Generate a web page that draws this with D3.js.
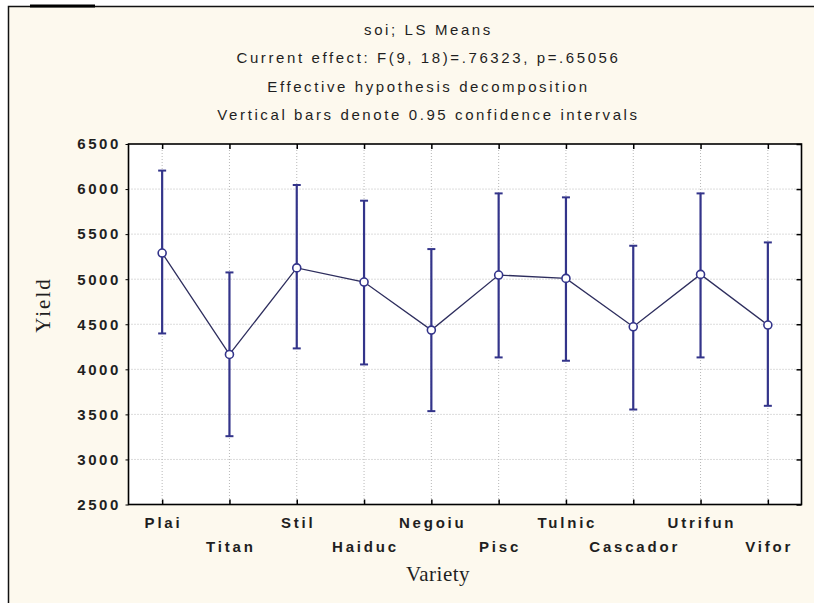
<!DOCTYPE html>
<html><head><meta charset="utf-8">
<script src="https://cdn.jsdelivr.net/npm/d3@7"></script>
<style>
html,body{margin:0;padding:0;background:#fff;}
svg{display:block;}
</style></head>
<body>
<svg id="chart" width="814" height="603"></svg>
<script>
const categories = ["Plai","Titan","Stil","Haiduc","Negoiu","Pisc","Tulnic","Cascador","Utrifun","Vifor"];
const means = [5290, 4165, 5125, 4968, 4435, 5046, 5009, 4472, 5053, 4491];
const upper = [6205, 5075, 6045, 5871, 5334, 5952, 5908, 5371, 5952, 5408];
const lower = [4398, 3258, 4232, 4054, 3536, 4132, 4095, 3554, 4132, 3595];
const yTicks = [2500, 3000, 3500, 4000, 4500, 5000, 5500, 6000, 6500];
const titleLines = ["soi; LS Means","Current effect: F(9, 18)=.76323, p=.65056","Effective hypothesis decomposition","Vertical bars denote 0.95 confidence intervals"];
const xTitle = "Variety", yTitle = "Yield";

(function(){
const svg = d3.select("#chart");
const pL = 128.5, pR = 801.5, pT = 144, pB = 504.5;
const navy = "#33348a";

svg.append("rect").attr("x",8.5).attr("y",6.5).attr("width",820).attr("height",620)
  .attr("fill","#fdf9ee").attr("stroke","#111").attr("stroke-width",1.5);
svg.append("line").attr("x1",30).attr("x2",95).attr("y1",6).attr("y2",6)
  .attr("stroke","#000").attr("stroke-width",3);

const x = d3.scalePoint().domain(categories).range([pL, pR]).padding(0.5);
const y = d3.scaleLinear().domain([2500, 6500]).range([pB, pT]);

svg.append("rect").attr("x",pL).attr("y",pT).attr("width",pR-pL).attr("height",pB-pT).attr("fill","#fff");

const g = svg.append("g");
g.selectAll(".hg").data(yTicks.slice(1,-1)).join("line")
  .attr("x1",pL).attr("x2",pR).attr("y1",d=>y(d)).attr("y2",d=>y(d))
  .attr("stroke","#b8b8b8").attr("stroke-width",1).attr("stroke-dasharray","1,2");
g.selectAll(".vg").data(categories).join("line")
  .attr("x1",d=>x(d)).attr("x2",d=>x(d)).attr("y1",pT).attr("y2",pB)
  .attr("stroke","#b8b8b8").attr("stroke-width",1).attr("stroke-dasharray","1,2");

const fontT = "'Liberation Sans', Arial, sans-serif";
const yAxis = svg.append("g").attr("transform",`translate(${pL},0)`)
  .call(d3.axisLeft(y).tickValues(yTicks).tickSize(3).tickPadding(4.5).tickFormat(d3.format("d")));
yAxis.select(".domain").remove();
yAxis.selectAll("line").attr("stroke","#000");
yAxis.selectAll("text").attr("font-family",fontT).attr("font-size",15).attr("letter-spacing","2.6px")
  .attr("fill","#1f1f1f").attr("font-weight","bold");

const yAxisR = svg.append("g").attr("transform",`translate(${pR},0)`)
  .call(d3.axisLeft(y).tickValues(yTicks).tickSize(5).tickFormat(""));
yAxisR.select(".domain").remove();
yAxisR.selectAll("line").attr("stroke","#000").attr("stroke-width",1.5);

const xAxis = svg.append("g").attr("transform",`translate(0,${pB})`)
  .call(d3.axisTop(x).tickSize(5).tickFormat(""));
xAxis.select(".domain").remove();
xAxis.selectAll("line").attr("stroke","#000").attr("stroke-width",1.5);
const xAxisT = svg.append("g").attr("transform",`translate(0,${pT})`)
  .call(d3.axisBottom(x).tickSize(5).tickFormat(""));
xAxisT.select(".domain").remove();
xAxisT.selectAll("line").attr("stroke","#000").attr("stroke-width",1.5);

svg.append("g").selectAll("text").data(categories).join("text")
  .attr("x",d=>x(d)+1.4).attr("y",(d,i)=> i%2===0 ? 527.5 : 551.5)
  .attr("text-anchor","middle").attr("font-family",fontT).attr("font-size",15)
  .attr("letter-spacing","2.8px").attr("font-weight","bold").attr("fill","#1f1f1f").text(d=>d);

svg.append("rect").attr("x",pL).attr("y",pT).attr("width",pR-pL).attr("height",pB-pT)
  .attr("fill","none").attr("stroke","#000").attr("stroke-width",1.6);

const eb = svg.append("g");
categories.forEach((c,i)=>{
  eb.append("line").attr("x1",x(c)).attr("x2",x(c)).attr("y1",y(upper[i])).attr("y2",y(lower[i]))
    .attr("stroke",navy).attr("stroke-width",2.2);
  [upper[i],lower[i]].forEach(v=>{
    eb.append("line").attr("x1",x(c)-4).attr("x2",x(c)+4).attr("y1",y(v)).attr("y2",y(v))
      .attr("stroke",navy).attr("stroke-width",2);
  });
});

const line = d3.line().x((d,i)=>x(categories[i])).y(d=>y(d));
svg.append("path").datum(means).attr("d",line).attr("fill","none").attr("stroke","#2e2e5e").attr("stroke-width",1.3);
svg.append("g").selectAll("circle").data(means).join("circle")
  .attr("cx",(d,i)=>x(categories[i])).attr("cy",d=>y(d)).attr("r",4)
  .attr("fill","#fff").attr("stroke",navy).attr("stroke-width",1.6);

svg.append("g").selectAll("text").data(titleLines).join("text")
  .attr("x",428.5).attr("y",(d,i)=>34.5+i*28.5).attr("text-anchor","middle")
  .attr("font-family",fontT).attr("font-size",15).attr("letter-spacing","2.6px").attr("fill","#1f1f1f").text(d=>d);

svg.append("text").attr("x",438).attr("y",581).attr("text-anchor","middle")
  .attr("font-family","'Liberation Serif','Times New Roman',serif").attr("font-size",21).attr("letter-spacing","0.5px").attr("fill","#1f1f1f").text(xTitle);
svg.append("text").attr("transform","translate(50,305) rotate(-90)").attr("text-anchor","middle")
  .attr("font-family","'Liberation Serif','Times New Roman',serif").attr("font-size",21).attr("letter-spacing","2px").attr("fill","#1f1f1f").text(yTitle);
})();
</script>
</body></html>
